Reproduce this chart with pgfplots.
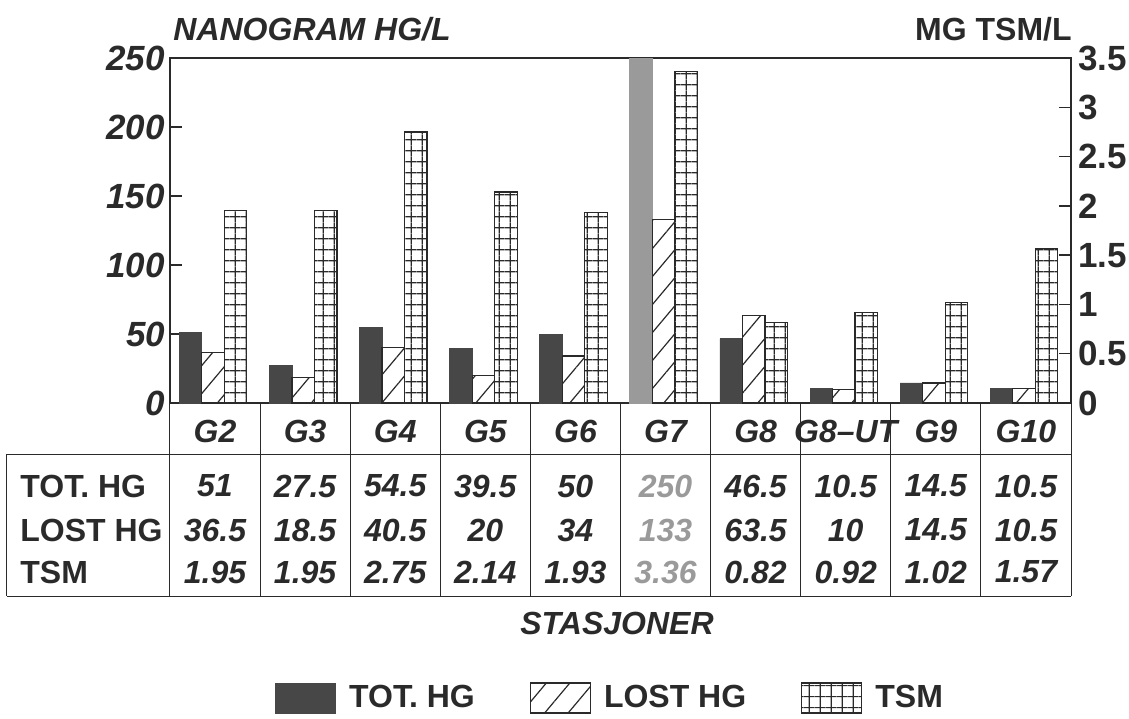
\documentclass[border=0pt]{standalone}
\usepackage{fontspec}
\setmainfont{Liberation Sans}
\usepackage{pgfplots}
\pgfplotsset{compat=1.18}
\usetikzlibrary{patterns.meta}

\definecolor{ink}{HTML}{2A2A2A}
\definecolor{darkbar}{HTML}{474747}
\definecolor{lightbar}{HTML}{9A9A9A}

\newcommand{\fs}{\fontsize{16}{19}\selectfont\bfseries}
\newcommand{\ft}{\fontsize{17.5}{20}\selectfont\bfseries}

\pgfplotsset{
  boxlegend/.style={legend image code/.code={\draw[##1] (0pt,-7.5pt) rectangle (30pt,7.5pt);}},
  hgstyle/.style={
    scale only axis, width=450.5pt, height=172.5pt,
    at={(0pt,0pt)}, anchor=south west,
    xmin=-0.5, xmax=9.5, ymin=0,
    ybar, bar width=11.25pt,
    tick align=inside, major tick length=6pt,
    /pgf/number format/assume math mode=true,
    axis line style={ink, line width=0.7pt},
    tick style={ink, line width=0.7pt},
    clip=false,
  },
}

\begin{document}
\begin{tikzpicture}[x=1pt,y=1pt]
\useasboundingbox (-85,-157.5) rectangle (479.5,201.5);

% left axis: mercury, ng/L
\begin{axis}[hgstyle,
  ymax=250, ytick={0,50,...,250}, ytick pos=left,
  xtick={0,...,9},
  xticklabels={G2,G3,G4,G5,G6,G7,G8,G8--UT,G9,G10},
  xtick style={draw=none},
  xticklabel style={font=\fs\itshape, text=ink, anchor=center, yshift=-14pt},
  yticklabel style={font=\ft\itshape, text=ink, xshift=1pt},
  legend columns=3,
  legend style={at={(0.1165,-0.855)}, anchor=west, draw=none, fill=none,
    inner sep=0pt, font=\fs, text=ink,
    nodes={inner sep=0pt},
    /tikz/every odd column/.append style={column sep=6.5pt},
    /tikz/every even column/.append style={column sep=27.5pt}},
]
\addplot[boxlegend, fill=darkbar, draw=darkbar, bar shift=-12.25pt] coordinates {
  (0,51) (1,27.5) (2,54.5) (3,39.5) (4,50) (6,46.5) (7,10.5) (8,14.5) (9,10.5)};
\addlegendentry{TOT. HG}
\addplot[forget plot, fill=lightbar, draw=lightbar, bar shift=-12.25pt] coordinates {(5,250)};
\addplot[boxlegend, draw=ink, line width=0.6pt, pattern={Lines[angle=50,distance=9pt,line width=0.6pt]},
  pattern color=ink, bar shift=-1pt] coordinates {
  (0,36.5) (1,18.5) (2,40.5) (3,20) (4,34) (5,133) (6,63.5) (7,10) (8,14.5) (9,10.5)};
\addlegendentry{LOST HG}
\addlegendimage{boxlegend, draw=ink, line width=0.6pt, pattern={Hatch[angle=0,distance=5.63pt,line width=0.6pt]}, pattern color=ink}
\addlegendentry{TSM}
\end{axis}

% right axis: suspended matter, mg/L
\begin{axis}[hgstyle,
  ymax=3.5, ytick={0,0.5,...,3.5},
  axis x line=none, axis y line*=right,
  yticklabel style={font=\ft, text=ink},
]
\addplot[draw=ink, line width=0.6pt, pattern={Hatch[angle=0,distance=5.63pt,line width=0.6pt]},
  pattern color=ink, bar shift=10.25pt] coordinates {
  (0,1.95) (1,1.95) (2,2.75) (3,2.14) (4,1.93) (5,3.36) (6,0.82) (7,0.92) (8,1.02) (9,1.57)};
\end{axis}

% titles
\node[anchor=west, inner sep=0pt, font=\fs\itshape, text=ink] at (1.5,187) {NANOGRAM HG/L};
\node[anchor=east, inner sep=0pt, font=\fs, text=ink] at (451,187) {MG TSM/L};

% data table under the axis
\begin{scope}[ink, line width=0.5pt]
  \draw (-81.5,-25.5) -- (450.5,-25.5);
  \draw (-81.5,-96.5) -- (450.5,-96.5);
  \draw (-81.5,-25.5) -- (-81.5,-96.5);
  \foreach \k in {0,...,10} \draw ({45.05*\k},0) -- ({45.05*\k},-96.5);
\end{scope}
\foreach \lab/\y in {TOT. HG/-41.5, LOST HG/-63.5, TSM/-84.5}
  \node[anchor=west, inner sep=0pt, font=\fs, text=ink] at (-75,\y) {\lab};
\foreach \v [count=\i from 0] in {51,27.5,54.5,39.5,50,{\color{lightbar}250},46.5,10.5,14.5,10.5}
  \node[font=\fs\itshape, text=ink] at ({45.05*\i+22.5},-41.5) {\v};
\foreach \v [count=\i from 0] in {36.5,18.5,40.5,20,34,{\color{lightbar}133},63.5,10,14.5,10.5}
  \node[font=\fs\itshape, text=ink] at ({45.05*\i+22.5},-63.5) {\v};
\foreach \v [count=\i from 0] in {1.95,1.95,2.75,2.14,1.93,{\color{lightbar}3.36},0.82,0.92,1.02,1.57}
  \node[font=\fs\itshape, text=ink] at ({45.05*\i+22.5},-84.5) {\v};

\node[font=\fs\itshape, text=ink] at (223.5,-110) {STASJONER};
\end{tikzpicture}
\end{document}
